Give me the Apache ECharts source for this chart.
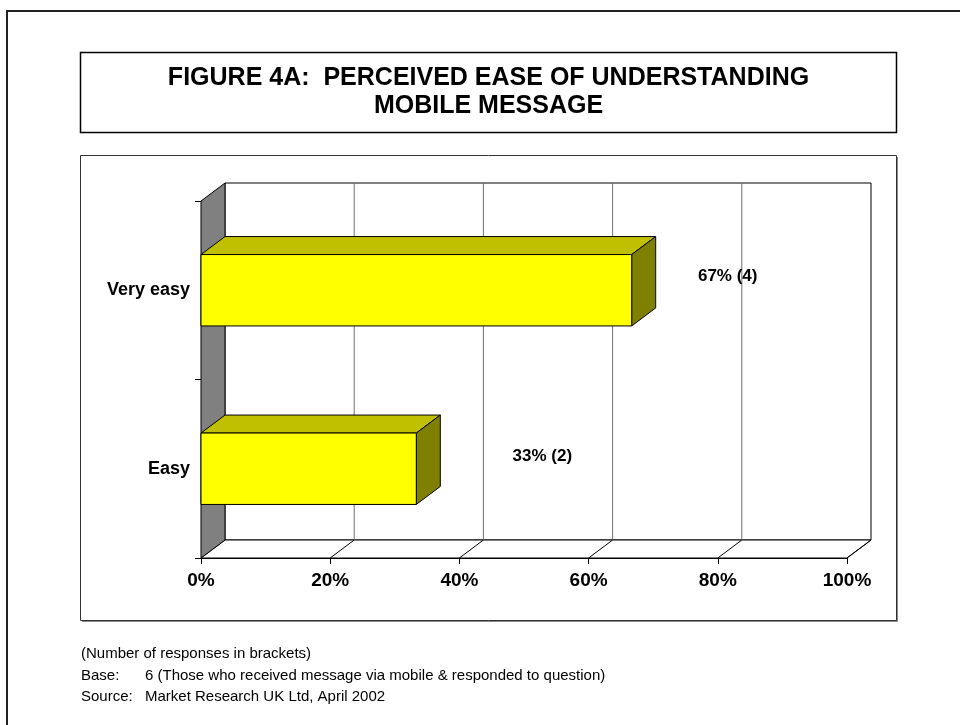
<!DOCTYPE html>
<html>
<head>
<meta charset="utf-8">
<script src="https://cdn.jsdelivr.net/npm/echarts@6/dist/echarts.min.js"></script>
<style>
  html, body { margin: 0; padding: 0; background: #fff; }
  #chart { width: 960px; height: 725px; }
</style>
</head>
<body>
<div id="chart"></div>
<script>
// data
const categories = ['Easy', 'Very easy'];
const percentValues = [33.33, 66.67];
const responseCounts = [2, 4];
const xTicks = [0, 20, 40, 60, 80, 100];

const titleLines = ['FIGURE 4A:  PERCEIVED EASE OF UNDERSTANDING', 'MOBILE MESSAGE'];
const noteLines = [
    ['(Number of responses in brackets)', ''],
    ['Base:', '6 (Those who received message via mobile & responded to question)'],
    ['Source:', 'Market Research UK Ltd, April 2002']
];

document.addEventListener('DOMContentLoaded', function () {
    const chart = echarts.init(document.getElementById('chart'));
    const FONT = '"Liberation Sans", Arial, sans-serif';

    // 3d depth offset of the plot
    const DX = 24;
    const DY = -18;
    // where the data labels sit relative to the bar end (as in the original)
    const labelShift = [[126, -12], [96, -14]];

    // walls, floor and back grid lines
    function renderFrame(params, api) {
        const cs = params.coordSys;
        const left = cs.x, top = cs.y, right = cs.x + cs.width, bottom = cs.y + cs.height;
        const x = api.coord([api.value(0), 0])[0];
        const children = [];
        if (params.dataIndex === 0) {
            children.push({
                type: 'rect',
                shape: { x: left + DX, y: top + DY, width: cs.width, height: cs.height },
                style: { fill: '#fff', stroke: '#000', lineWidth: 1 }
            });
            children.push({
                type: 'polygon',
                shape: { points: [[left, bottom], [left + DX, bottom + DY], [right + DX, bottom + DY], [right, bottom]] },
                style: { fill: '#fff', stroke: '#000', lineWidth: 1 }
            });
            children.push({
                type: 'polygon',
                shape: { points: [[left, top], [left + DX, top + DY], [left + DX, bottom + DY], [left, bottom]] },
                style: { fill: '#808080', stroke: '#000', lineWidth: 1 }
            });
        } else {
            if (x < right - 1) {
                children.push({
                    type: 'line',
                    shape: { x1: x + DX, y1: top + DY, x2: x + DX, y2: bottom + DY },
                    style: { stroke: '#707070', lineWidth: 1 }
                });
            }
            children.push({
                type: 'line',
                shape: { x1: x, y1: bottom, x2: x + DX, y2: bottom + DY },
                style: { stroke: '#000', lineWidth: 1 }
            });
        }
        return { type: 'group', children: children };
    }

    // 3d bar: front, top and side faces
    function renderBar(params, api) {
        const val = api.value(0);
        const cat = api.value(1);
        const start = api.coord([0, cat]);
        const end = api.coord([val, cat]);
        const h = api.size([0, 1])[1] * 0.4;
        const x0 = start[0], x1 = end[0];
        const y0 = end[1] - h / 2, y1 = end[1] + h / 2;
        const edge = { stroke: '#000', lineWidth: 1 };
        const shift = labelShift[params.dataIndex];
        return {
            type: 'group',
            children: [
                {
                    type: 'polygon',
                    shape: { points: [[x0, y0], [x0 + DX, y0 + DY], [x1 + DX, y0 + DY], [x1, y0]] },
                    style: Object.assign({ fill: '#C0C000' }, edge)
                },
                {
                    type: 'polygon',
                    shape: { points: [[x1, y0], [x1 + DX, y0 + DY], [x1 + DX, y1 + DY], [x1, y1]] },
                    style: Object.assign({ fill: '#808000' }, edge)
                },
                {
                    type: 'rect',
                    shape: { x: x0, y: y0, width: x1 - x0, height: h },
                    style: Object.assign({ fill: '#FFFF00' }, edge)
                },
                {
                    type: 'text',
                    x: x1 + shift[0],
                    y: end[1] + shift[1],
                    style: {
                        text: Math.round(val) + '% (' + api.value(2) + ')',
                        font: 'bold 17px ' + FONT,
                        fill: '#000',
                        align: 'center',
                        verticalAlign: 'middle'
                    }
                }
            ]
        };
    }

    const graphics = [
        // page frame
        { type: 'rect', shape: { x: 7, y: 11, width: 1000, height: 1000 }, style: { fill: 'none', stroke: '#222', lineWidth: 2 }, z: 0 },
        // title box
        { type: 'rect', shape: { x: 80.5, y: 52.5, width: 816, height: 80 }, style: { fill: '#fff', stroke: '#000', lineWidth: 1.5 }, z: 0 },
        // plot box with small shadow
        { type: 'rect', shape: { x: 82, y: 157, width: 816, height: 465 }, style: { fill: '#888' }, z: 0 },
        { type: 'rect', shape: { x: 80.5, y: 155.5, width: 816, height: 465 }, style: { fill: '#fff', stroke: '#333', lineWidth: 1 }, z: 0 }
    ];
    titleLines.forEach(function (line, i) {
        graphics.push({
            type: 'text', x: 488.5, y: 78 + i * 28, z: 1,
            style: { text: line, font: 'bold 25px ' + FONT, fill: '#000', align: 'center', verticalAlign: 'middle' }
        });
    });
    noteLines.forEach(function (row, i) {
        graphics.push({
            type: 'text', x: 81, y: 654 + i * 21.5, z: 1,
            style: { text: row[0], font: '15px ' + FONT, fill: '#000', verticalAlign: 'middle' }
        });
        if (row[1]) {
            graphics.push({
                type: 'text', x: 145, y: 654 + i * 21.5, z: 1,
                style: { text: row[1], font: '15px ' + FONT, fill: '#000', verticalAlign: 'middle' }
            });
        }
    });

    const option = {
        animation: false,
        backgroundColor: '#fff',
        graphic: graphics,
        grid: { left: 201, top: 201, width: 646, height: 357 },
        xAxis: {
            type: 'value',
            min: 0,
            max: 100,
            interval: 20,
            axisLine: { show: true, lineStyle: { color: '#000', width: 1 } },
            axisTick: { show: true, length: 6, lineStyle: { color: '#000' } },
            splitLine: { show: false },
            axisLabel: {
                formatter: '{value}%',
                color: '#000',
                fontFamily: FONT,
                fontWeight: 'bold',
                fontSize: 19,
                margin: 13
            }
        },
        yAxis: {
            type: 'category',
            data: categories,
            axisLine: { show: true, lineStyle: { color: '#000', width: 1 } },
            axisTick: { show: true, length: 6, lineStyle: { color: '#000' } },
            splitLine: { show: false },
            axisLabel: {
                color: '#000',
                fontFamily: FONT,
                fontWeight: 'bold',
                fontSize: 18,
                margin: 11
            }
        },
        series: [
            {
                name: 'frame',
                type: 'custom',
                renderItem: renderFrame,
                data: xTicks.map(function (v) { return [v]; }),
                z: 1,
                silent: true
            },
            {
                name: 'bars',
                type: 'custom',
                renderItem: renderBar,
                encode: { x: 0, y: 1 },
                data: percentValues.map(function (v, i) { return [v, i, responseCounts[i]]; }),
                z: 3
            }
        ]
    };

    chart.setOption(option);
});
</script>
</body>
</html>
